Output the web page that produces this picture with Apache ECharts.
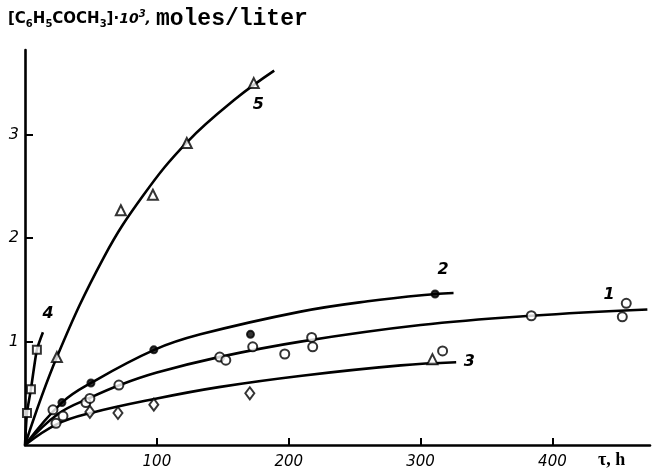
<!DOCTYPE html>
<html>
<head>
<meta charset="utf-8">
<script src="https://cdn.jsdelivr.net/npm/echarts@6/dist/echarts.min.js"></script>
<style>
  html, body { margin: 0; padding: 0; background: #fff; }
  #main { width: 663px; height: 475px; }
</style>
</head>
<body>
<div id="main"></div>
<script>
// 坐标轴刻度
const xTicks = [100, 200, 300, 400];
const yTicks = [1, 2, 3];

// 拟合曲线 (从图上读取的点)
const curve1 = [[0, 0], [25, 0.3], [50, 0.46], [72, 0.58], [100, 0.7], [147, 0.85], [209, 1.0], [300, 1.16], [384, 1.25], [472, 1.31]];
const curve2 = [[0, 0], [28, 0.41], [50, 0.6], [98, 0.92], [133, 1.07], [209, 1.29], [260, 1.39], [311, 1.46], [325, 1.47]];
const curve3 = [[0, 0], [24, 0.2], [50, 0.31], [100, 0.45], [147, 0.56], [210, 0.67], [285, 0.77], [327, 0.8]];
const curve4 = [[0, 0], [1.5, 0.31], [4.5, 0.54], [9, 0.92], [13.6, 1.09]];
const curve5 = [[0, 0], [24.5, 0.86], [60, 1.82], [90, 2.42], [123, 2.93], [160, 3.35], [189, 3.62]];

// 实验点
const points1 = [[21.2, 0.34], [23.5, 0.21], [28.8, 0.28], [46.2, 0.41], [49.2, 0.45], [71.2, 0.58], [147.7, 0.85], [152.3, 0.82], [172.7, 0.95], [197, 0.88], [217.4, 1.04], [218.2, 0.95], [316.7, 0.91], [384, 1.25], [456, 1.37], [453, 1.24]];
const points2 = [[28, 0.41], [50, 0.6], [97.7, 0.92], [171, 1.07], [311, 1.46]];
const points3 = [[49.2, 0.32], [70.5, 0.31], [97.7, 0.39], [170.5, 0.5]];
const points3tri = [[309, 0.83]];
const points4 = [[1.5, 0.31], [4.5, 0.54], [9, 0.92]];
const points5 = [[24.2, 0.85], [72.7, 2.27], [97, 2.42], [122.7, 2.92], [173.5, 3.5]];

// 曲线编号
const curveLabels = [['1', 443, 1.47], ['2', 317, 1.71], ['3', 337, 0.82], ['4', 17.4, 1.28], ['5', 177, 3.3]];

const myChart = echarts.init(document.getElementById('main'));

const lineStyle = { color: '#000', width: 2.6 };
function curve(data, smooth) {
  return { type: 'line', data: data, smooth: smooth, showSymbol: false, lineStyle: lineStyle, silent: true, z: 2 };
}
function pts(data, symbol, size, filled) {
  return {
    type: 'scatter', data: data, symbol: symbol, symbolSize: size, z: 3,
    itemStyle: { color: filled ? '#000' : '#fff', borderColor: '#000', borderWidth: 2 }
  };
}

const option = {
  animation: false,
  title: {
    left: 3, top: 2,
    text: '{b|[C}{s|6}{b|H}{s|5}{b|COCH}{s|3}{b|]·}{i|10}{p|3}{i|,} {m|moles/liter}',
    textStyle: {
      rich: {
        b: { fontFamily: 'DejaVu Sans', fontWeight: 'bold', fontSize: 15, color: '#000', lineHeight: 24 },
        s: { fontFamily: 'DejaVu Sans', fontWeight: 'bold', fontSize: 10, color: '#000', lineHeight: 24, padding: [10, 0, 0, 0] },
        i: { fontFamily: 'DejaVu Sans', fontStyle: 'italic', fontSize: 14, color: '#000', lineHeight: 24 },
        p: { fontFamily: 'DejaVu Sans', fontStyle: 'italic', fontSize: 10, color: '#000', lineHeight: 24, padding: [0, 0, 10, 0] },
        m: { fontFamily: 'Liberation Mono', fontWeight: 'bold', fontSize: 23, color: '#000', lineHeight: 24 }
      }
    }
  },
  grid: { left: 25, right: 13, top: 50, bottom: 30 },
  xAxis: {
    type: 'value', min: 0, max: 474,
    splitLine: { show: false },
    axisLine: { lineStyle: { color: '#000', width: 2.6 } },
    axisTick: { inside: true, length: 7, customValues: xTicks, lineStyle: { color: '#000', width: 2 } },
    axisLabel: {
      customValues: xTicks, margin: 10, color: '#000',
      fontFamily: 'DejaVu Sans', fontStyle: 'italic', fontSize: 15
    },
    name: 'τ, h', nameLocation: 'end', nameGap: -52,
    nameTextStyle: {
      align: 'left', verticalAlign: 'top', padding: [6, 0, 0, 0],
      fontFamily: 'Liberation Serif', fontWeight: 'bold', fontSize: 18, color: '#000'
    }
  },
  yAxis: {
    type: 'value', min: 0, max: 3.82,
    splitLine: { show: false },
    axisLine: { lineStyle: { color: '#000', width: 2.6 } },
    axisTick: { inside: true, length: 8, customValues: yTicks, lineStyle: { color: '#000', width: 2 } },
    axisLabel: {
      customValues: yTicks, margin: 6, color: '#000',
      fontFamily: 'DejaVu Sans', fontStyle: 'italic', fontSize: 16
    }
  },
  series: [
    curve(curve1, 0.4),
    curve(curve2, 0.4),
    curve(curve3, 0.4),
    curve(curve4, 0.2),
    curve(curve5, 0.4),
    pts(points1, 'circle', 9, false),
    pts(points2, 'circle', 7, true),
    pts(points3, 'diamond', [9, 12], false),
    pts(points3tri, 'triangle', 10, false),
    pts(points4, 'rect', 8, false),
    pts(points5, 'triangle', 10, false),
    {
      type: 'scatter', symbolSize: 1, silent: true,
      itemStyle: { color: 'rgba(0,0,0,0)' },
      data: curveLabels.map(d => ({ name: d[0], value: [d[1], d[2]] })),
      label: {
        show: true, position: 'top', distance: -10, formatter: '{b}', color: '#000', opacity: 1,
        fontFamily: 'DejaVu Sans', fontStyle: 'italic', fontWeight: 'bold', fontSize: 16
      }
    }
  ]
};

myChart.setOption(option);
</script>
</body>
</html>
